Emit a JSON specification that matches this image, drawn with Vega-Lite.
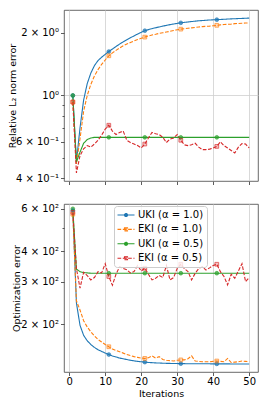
{
"$schema": "https://vega.github.io/schema/vega-lite/v6.json",
"padding": {"left": 6, "top": 9, "right": 9, "bottom": 2},
"spacing": 17,
"config": {
 "font": "DejaVu Sans",
 "view": {"stroke": "#444", "strokeWidth": 0.8},
 "axis": {"labelFont": "DejaVu Sans", "titleFont": "DejaVu Sans", "labelFontSize": 10, "titleFontSize": 9.5, "titleFontWeight": "normal", "labelColor": "#000", "titleColor": "#000", "domain": false, "tickColor": "#333", "tickWidth": 0.8, "gridColor": "#cfcfcf", "gridWidth": 0.8}
},
"resolve": {"legend": {"color": "independent"}},
"datasets": {"d": [
{"p":"top","s":"UKI (α = 1.0)","i":1,"v":1.0},{"p":"top","s":"UKI (α = 1.0)","i":2,"v":0.48},{"p":"top","s":"UKI (α = 1.0)","i":3,"v":0.70},{"p":"top","s":"UKI (α = 1.0)","i":4,"v":0.95},{"p":"top","s":"UKI (α = 1.0)","i":5,"v":1.14},{"p":"top","s":"UKI (α = 1.0)","i":6,"v":1.28},{"p":"top","s":"UKI (α = 1.0)","i":7,"v":1.39},{"p":"top","s":"UKI (α = 1.0)","i":8,"v":1.47},{"p":"top","s":"UKI (α = 1.0)","i":9,"v":1.525},{"p":"top","s":"UKI (α = 1.0)","i":10,"v":1.575},
{"p":"top","s":"UKI (α = 1.0)","i":11,"v":1.625},{"p":"top","s":"UKI (α = 1.0)","i":12,"v":1.67},{"p":"top","s":"UKI (α = 1.0)","i":13,"v":1.718},{"p":"top","s":"UKI (α = 1.0)","i":14,"v":1.764},{"p":"top","s":"UKI (α = 1.0)","i":15,"v":1.808},{"p":"top","s":"UKI (α = 1.0)","i":16,"v":1.85},{"p":"top","s":"UKI (α = 1.0)","i":17,"v":1.891},{"p":"top","s":"UKI (α = 1.0)","i":18,"v":1.931},{"p":"top","s":"UKI (α = 1.0)","i":19,"v":1.97},{"p":"top","s":"UKI (α = 1.0)","i":20,"v":2.008},
{"p":"top","s":"UKI (α = 1.0)","i":21,"v":2.045},{"p":"top","s":"UKI (α = 1.0)","i":22,"v":2.069},{"p":"top","s":"UKI (α = 1.0)","i":23,"v":2.091},{"p":"top","s":"UKI (α = 1.0)","i":24,"v":2.112},{"p":"top","s":"UKI (α = 1.0)","i":25,"v":2.132},{"p":"top","s":"UKI (α = 1.0)","i":26,"v":2.151},{"p":"top","s":"UKI (α = 1.0)","i":27,"v":2.169},{"p":"top","s":"UKI (α = 1.0)","i":28,"v":2.186},{"p":"top","s":"UKI (α = 1.0)","i":29,"v":2.202},{"p":"top","s":"UKI (α = 1.0)","i":30,"v":2.217},
{"p":"top","s":"UKI (α = 1.0)","i":31,"v":2.231},{"p":"top","s":"UKI (α = 1.0)","i":32,"v":2.242},{"p":"top","s":"UKI (α = 1.0)","i":33,"v":2.252},{"p":"top","s":"UKI (α = 1.0)","i":34,"v":2.262},{"p":"top","s":"UKI (α = 1.0)","i":35,"v":2.272},{"p":"top","s":"UKI (α = 1.0)","i":36,"v":2.281},{"p":"top","s":"UKI (α = 1.0)","i":37,"v":2.288},{"p":"top","s":"UKI (α = 1.0)","i":38,"v":2.295},{"p":"top","s":"UKI (α = 1.0)","i":39,"v":2.301},{"p":"top","s":"UKI (α = 1.0)","i":40,"v":2.306},
{"p":"top","s":"UKI (α = 1.0)","i":41,"v":2.31},{"p":"top","s":"UKI (α = 1.0)","i":42,"v":2.315},{"p":"top","s":"UKI (α = 1.0)","i":43,"v":2.32},{"p":"top","s":"UKI (α = 1.0)","i":44,"v":2.325},{"p":"top","s":"UKI (α = 1.0)","i":45,"v":2.33},{"p":"top","s":"UKI (α = 1.0)","i":46,"v":2.334},{"p":"top","s":"UKI (α = 1.0)","i":47,"v":2.338},{"p":"top","s":"UKI (α = 1.0)","i":48,"v":2.342},{"p":"top","s":"UKI (α = 1.0)","i":49,"v":2.346},{"p":"top","s":"UKI (α = 1.0)","i":50,"v":2.35},
{"p":"top","s":"EKI (α = 1.0)","i":1,"v":0.93},{"p":"top","s":"EKI (α = 1.0)","i":2,"v":0.47},{"p":"top","s":"EKI (α = 1.0)","i":3,"v":0.62},{"p":"top","s":"EKI (α = 1.0)","i":4,"v":0.84},{"p":"top","s":"EKI (α = 1.0)","i":5,"v":1.0},{"p":"top","s":"EKI (α = 1.0)","i":6,"v":1.13},{"p":"top","s":"EKI (α = 1.0)","i":7,"v":1.24},{"p":"top","s":"EKI (α = 1.0)","i":8,"v":1.33},{"p":"top","s":"EKI (α = 1.0)","i":9,"v":1.41},{"p":"top","s":"EKI (α = 1.0)","i":10,"v":1.48},
{"p":"top","s":"EKI (α = 1.0)","i":11,"v":1.55},{"p":"top","s":"EKI (α = 1.0)","i":12,"v":1.60},{"p":"top","s":"EKI (α = 1.0)","i":13,"v":1.645},{"p":"top","s":"EKI (α = 1.0)","i":14,"v":1.69},{"p":"top","s":"EKI (α = 1.0)","i":15,"v":1.73},{"p":"top","s":"EKI (α = 1.0)","i":16,"v":1.765},{"p":"top","s":"EKI (α = 1.0)","i":17,"v":1.795},{"p":"top","s":"EKI (α = 1.0)","i":18,"v":1.825},{"p":"top","s":"EKI (α = 1.0)","i":19,"v":1.855},{"p":"top","s":"EKI (α = 1.0)","i":20,"v":1.88},
{"p":"top","s":"EKI (α = 1.0)","i":21,"v":1.905},{"p":"top","s":"EKI (α = 1.0)","i":22,"v":1.93},{"p":"top","s":"EKI (α = 1.0)","i":23,"v":1.95},{"p":"top","s":"EKI (α = 1.0)","i":24,"v":1.965},{"p":"top","s":"EKI (α = 1.0)","i":25,"v":1.985},{"p":"top","s":"EKI (α = 1.0)","i":26,"v":2.0},{"p":"top","s":"EKI (α = 1.0)","i":27,"v":2.015},{"p":"top","s":"EKI (α = 1.0)","i":28,"v":2.03},{"p":"top","s":"EKI (α = 1.0)","i":29,"v":2.05},{"p":"top","s":"EKI (α = 1.0)","i":30,"v":2.065},
{"p":"top","s":"EKI (α = 1.0)","i":31,"v":2.08},{"p":"top","s":"EKI (α = 1.0)","i":32,"v":2.09},{"p":"top","s":"EKI (α = 1.0)","i":33,"v":2.10},{"p":"top","s":"EKI (α = 1.0)","i":34,"v":2.11},{"p":"top","s":"EKI (α = 1.0)","i":35,"v":2.12},{"p":"top","s":"EKI (α = 1.0)","i":36,"v":2.13},{"p":"top","s":"EKI (α = 1.0)","i":37,"v":2.14},{"p":"top","s":"EKI (α = 1.0)","i":38,"v":2.145},{"p":"top","s":"EKI (α = 1.0)","i":39,"v":2.15},{"p":"top","s":"EKI (α = 1.0)","i":40,"v":2.16},
{"p":"top","s":"EKI (α = 1.0)","i":41,"v":2.17},{"p":"top","s":"EKI (α = 1.0)","i":42,"v":2.18},{"p":"top","s":"EKI (α = 1.0)","i":43,"v":2.19},{"p":"top","s":"EKI (α = 1.0)","i":44,"v":2.195},{"p":"top","s":"EKI (α = 1.0)","i":45,"v":2.20},{"p":"top","s":"EKI (α = 1.0)","i":46,"v":2.21},{"p":"top","s":"EKI (α = 1.0)","i":47,"v":2.215},{"p":"top","s":"EKI (α = 1.0)","i":48,"v":2.22},{"p":"top","s":"EKI (α = 1.0)","i":49,"v":2.225},{"p":"top","s":"EKI (α = 1.0)","i":50,"v":2.23},
{"p":"top","s":"UKI (α = 0.5)","i":1,"v":1.0},{"p":"top","s":"UKI (α = 0.5)","i":2,"v":0.48},{"p":"top","s":"UKI (α = 0.5)","i":3,"v":0.535},{"p":"top","s":"UKI (α = 0.5)","i":4,"v":0.59},{"p":"top","s":"UKI (α = 0.5)","i":5,"v":0.615},{"p":"top","s":"UKI (α = 0.5)","i":6,"v":0.625},{"p":"top","s":"UKI (α = 0.5)","i":7,"v":0.63},{"p":"top","s":"UKI (α = 0.5)","i":8,"v":0.63},{"p":"top","s":"UKI (α = 0.5)","i":9,"v":0.63},{"p":"top","s":"UKI (α = 0.5)","i":10,"v":0.63},
{"p":"top","s":"UKI (α = 0.5)","i":11,"v":0.63},{"p":"top","s":"UKI (α = 0.5)","i":12,"v":0.63},{"p":"top","s":"UKI (α = 0.5)","i":13,"v":0.63},{"p":"top","s":"UKI (α = 0.5)","i":14,"v":0.63},{"p":"top","s":"UKI (α = 0.5)","i":15,"v":0.63},{"p":"top","s":"UKI (α = 0.5)","i":16,"v":0.63},{"p":"top","s":"UKI (α = 0.5)","i":17,"v":0.63},{"p":"top","s":"UKI (α = 0.5)","i":18,"v":0.63},{"p":"top","s":"UKI (α = 0.5)","i":19,"v":0.63},{"p":"top","s":"UKI (α = 0.5)","i":20,"v":0.63},
{"p":"top","s":"UKI (α = 0.5)","i":21,"v":0.63},{"p":"top","s":"UKI (α = 0.5)","i":22,"v":0.63},{"p":"top","s":"UKI (α = 0.5)","i":23,"v":0.63},{"p":"top","s":"UKI (α = 0.5)","i":24,"v":0.63},{"p":"top","s":"UKI (α = 0.5)","i":25,"v":0.63},{"p":"top","s":"UKI (α = 0.5)","i":26,"v":0.63},{"p":"top","s":"UKI (α = 0.5)","i":27,"v":0.63},{"p":"top","s":"UKI (α = 0.5)","i":28,"v":0.63},{"p":"top","s":"UKI (α = 0.5)","i":29,"v":0.63},{"p":"top","s":"UKI (α = 0.5)","i":30,"v":0.63},
{"p":"top","s":"UKI (α = 0.5)","i":31,"v":0.63},{"p":"top","s":"UKI (α = 0.5)","i":32,"v":0.63},{"p":"top","s":"UKI (α = 0.5)","i":33,"v":0.63},{"p":"top","s":"UKI (α = 0.5)","i":34,"v":0.63},{"p":"top","s":"UKI (α = 0.5)","i":35,"v":0.63},{"p":"top","s":"UKI (α = 0.5)","i":36,"v":0.63},{"p":"top","s":"UKI (α = 0.5)","i":37,"v":0.63},{"p":"top","s":"UKI (α = 0.5)","i":38,"v":0.63},{"p":"top","s":"UKI (α = 0.5)","i":39,"v":0.63},{"p":"top","s":"UKI (α = 0.5)","i":40,"v":0.63},
{"p":"top","s":"UKI (α = 0.5)","i":41,"v":0.63},{"p":"top","s":"UKI (α = 0.5)","i":42,"v":0.63},{"p":"top","s":"UKI (α = 0.5)","i":43,"v":0.63},{"p":"top","s":"UKI (α = 0.5)","i":44,"v":0.63},{"p":"top","s":"UKI (α = 0.5)","i":45,"v":0.63},{"p":"top","s":"UKI (α = 0.5)","i":46,"v":0.63},{"p":"top","s":"UKI (α = 0.5)","i":47,"v":0.63},{"p":"top","s":"UKI (α = 0.5)","i":48,"v":0.63},{"p":"top","s":"UKI (α = 0.5)","i":49,"v":0.63},{"p":"top","s":"UKI (α = 0.5)","i":50,"v":0.63},
{"p":"top","s":"EKI (α = 0.5)","i":1,"v":0.93},{"p":"top","s":"EKI (α = 0.5)","i":2,"v":0.425},{"p":"top","s":"EKI (α = 0.5)","i":3,"v":0.515},{"p":"top","s":"EKI (α = 0.5)","i":4,"v":0.555},{"p":"top","s":"EKI (α = 0.5)","i":5,"v":0.575},{"p":"top","s":"EKI (α = 0.5)","i":6,"v":0.565},{"p":"top","s":"EKI (α = 0.5)","i":7,"v":0.585},{"p":"top","s":"EKI (α = 0.5)","i":8,"v":0.61},{"p":"top","s":"EKI (α = 0.5)","i":9,"v":0.645},{"p":"top","s":"EKI (α = 0.5)","i":10,"v":0.69},
{"p":"top","s":"EKI (α = 0.5)","i":11,"v":0.72},{"p":"top","s":"EKI (α = 0.5)","i":12,"v":0.675},{"p":"top","s":"EKI (α = 0.5)","i":13,"v":0.65},{"p":"top","s":"EKI (α = 0.5)","i":14,"v":0.665},{"p":"top","s":"EKI (α = 0.5)","i":15,"v":0.675},{"p":"top","s":"EKI (α = 0.5)","i":16,"v":0.61},{"p":"top","s":"EKI (α = 0.5)","i":17,"v":0.595},{"p":"top","s":"EKI (α = 0.5)","i":18,"v":0.585},{"p":"top","s":"EKI (α = 0.5)","i":19,"v":0.575},{"p":"top","s":"EKI (α = 0.5)","i":20,"v":0.56},
{"p":"top","s":"EKI (α = 0.5)","i":21,"v":0.585},{"p":"top","s":"EKI (α = 0.5)","i":22,"v":0.625},{"p":"top","s":"EKI (α = 0.5)","i":23,"v":0.665},{"p":"top","s":"EKI (α = 0.5)","i":24,"v":0.655},{"p":"top","s":"EKI (α = 0.5)","i":25,"v":0.65},{"p":"top","s":"EKI (α = 0.5)","i":26,"v":0.63},{"p":"top","s":"EKI (α = 0.5)","i":27,"v":0.595},{"p":"top","s":"EKI (α = 0.5)","i":28,"v":0.618},{"p":"top","s":"EKI (α = 0.5)","i":29,"v":0.625},{"p":"top","s":"EKI (α = 0.5)","i":30,"v":0.65},
{"p":"top","s":"EKI (α = 0.5)","i":31,"v":0.61},{"p":"top","s":"EKI (α = 0.5)","i":32,"v":0.58},{"p":"top","s":"EKI (α = 0.5)","i":33,"v":0.575},{"p":"top","s":"EKI (α = 0.5)","i":34,"v":0.58},{"p":"top","s":"EKI (α = 0.5)","i":35,"v":0.59},{"p":"top","s":"EKI (α = 0.5)","i":36,"v":0.565},{"p":"top","s":"EKI (α = 0.5)","i":37,"v":0.55},{"p":"top","s":"EKI (α = 0.5)","i":38,"v":0.55},{"p":"top","s":"EKI (α = 0.5)","i":39,"v":0.553},{"p":"top","s":"EKI (α = 0.5)","i":40,"v":0.56},
{"p":"top","s":"EKI (α = 0.5)","i":41,"v":0.57},{"p":"top","s":"EKI (α = 0.5)","i":42,"v":0.60},{"p":"top","s":"EKI (α = 0.5)","i":43,"v":0.575},{"p":"top","s":"EKI (α = 0.5)","i":44,"v":0.56},{"p":"top","s":"EKI (α = 0.5)","i":45,"v":0.545},{"p":"top","s":"EKI (α = 0.5)","i":46,"v":0.53},{"p":"top","s":"EKI (α = 0.5)","i":47,"v":0.565},{"p":"top","s":"EKI (α = 0.5)","i":48,"v":0.588},{"p":"top","s":"EKI (α = 0.5)","i":49,"v":0.585},{"p":"top","s":"EKI (α = 0.5)","i":50,"v":0.56},
{"p":"bot","s":"UKI (α = 1.0)","i":1,"v":590},{"p":"bot","s":"UKI (α = 1.0)","i":2,"v":245},{"p":"bot","s":"UKI (α = 1.0)","i":3,"v":198},{"p":"bot","s":"UKI (α = 1.0)","i":4,"v":180},{"p":"bot","s":"UKI (α = 1.0)","i":5,"v":171},{"p":"bot","s":"UKI (α = 1.0)","i":6,"v":165},{"p":"bot","s":"UKI (α = 1.0)","i":7,"v":160.5},{"p":"bot","s":"UKI (α = 1.0)","i":8,"v":157},{"p":"bot","s":"UKI (α = 1.0)","i":9,"v":154.5},{"p":"bot","s":"UKI (α = 1.0)","i":10,"v":152},
{"p":"bot","s":"UKI (α = 1.0)","i":11,"v":150},{"p":"bot","s":"UKI (α = 1.0)","i":12,"v":148},{"p":"bot","s":"UKI (α = 1.0)","i":13,"v":146.5},{"p":"bot","s":"UKI (α = 1.0)","i":14,"v":145},{"p":"bot","s":"UKI (α = 1.0)","i":15,"v":144},{"p":"bot","s":"UKI (α = 1.0)","i":16,"v":143},{"p":"bot","s":"UKI (α = 1.0)","i":17,"v":142},{"p":"bot","s":"UKI (α = 1.0)","i":18,"v":141.2},{"p":"bot","s":"UKI (α = 1.0)","i":19,"v":140.5},{"p":"bot","s":"UKI (α = 1.0)","i":20,"v":140},
{"p":"bot","s":"UKI (α = 1.0)","i":21,"v":139.5},{"p":"bot","s":"UKI (α = 1.0)","i":22,"v":139.1},{"p":"bot","s":"UKI (α = 1.0)","i":23,"v":138.8},{"p":"bot","s":"UKI (α = 1.0)","i":24,"v":138.5},{"p":"bot","s":"UKI (α = 1.0)","i":25,"v":138.3},{"p":"bot","s":"UKI (α = 1.0)","i":26,"v":138.1},{"p":"bot","s":"UKI (α = 1.0)","i":27,"v":137.9},{"p":"bot","s":"UKI (α = 1.0)","i":28,"v":137.8},{"p":"bot","s":"UKI (α = 1.0)","i":29,"v":137.7},{"p":"bot","s":"UKI (α = 1.0)","i":30,"v":137.6},
{"p":"bot","s":"UKI (α = 1.0)","i":31,"v":137.5},{"p":"bot","s":"UKI (α = 1.0)","i":32,"v":137.5},{"p":"bot","s":"UKI (α = 1.0)","i":33,"v":137.4},{"p":"bot","s":"UKI (α = 1.0)","i":34,"v":137.4},{"p":"bot","s":"UKI (α = 1.0)","i":35,"v":137.4},{"p":"bot","s":"UKI (α = 1.0)","i":36,"v":137.3},{"p":"bot","s":"UKI (α = 1.0)","i":37,"v":137.3},{"p":"bot","s":"UKI (α = 1.0)","i":38,"v":137.3},{"p":"bot","s":"UKI (α = 1.0)","i":39,"v":137.3},{"p":"bot","s":"UKI (α = 1.0)","i":40,"v":137.2},
{"p":"bot","s":"UKI (α = 1.0)","i":41,"v":137.2},{"p":"bot","s":"UKI (α = 1.0)","i":42,"v":137.2},{"p":"bot","s":"UKI (α = 1.0)","i":43,"v":137.2},{"p":"bot","s":"UKI (α = 1.0)","i":44,"v":137.2},{"p":"bot","s":"UKI (α = 1.0)","i":45,"v":137.1},{"p":"bot","s":"UKI (α = 1.0)","i":46,"v":137.1},{"p":"bot","s":"UKI (α = 1.0)","i":47,"v":137.1},{"p":"bot","s":"UKI (α = 1.0)","i":48,"v":137.1},{"p":"bot","s":"UKI (α = 1.0)","i":49,"v":137.1},{"p":"bot","s":"UKI (α = 1.0)","i":50,"v":137.1},
{"p":"bot","s":"EKI (α = 1.0)","i":1,"v":570},{"p":"bot","s":"EKI (α = 1.0)","i":2,"v":250},{"p":"bot","s":"EKI (α = 1.0)","i":3,"v":229},{"p":"bot","s":"EKI (α = 1.0)","i":4,"v":207},{"p":"bot","s":"EKI (α = 1.0)","i":5,"v":195},{"p":"bot","s":"EKI (α = 1.0)","i":6,"v":186},{"p":"bot","s":"EKI (α = 1.0)","i":7,"v":179},{"p":"bot","s":"EKI (α = 1.0)","i":8,"v":173},{"p":"bot","s":"EKI (α = 1.0)","i":9,"v":169},{"p":"bot","s":"EKI (α = 1.0)","i":10,"v":165},
{"p":"bot","s":"EKI (α = 1.0)","i":11,"v":161.5},{"p":"bot","s":"EKI (α = 1.0)","i":12,"v":158},{"p":"bot","s":"EKI (α = 1.0)","i":13,"v":156},{"p":"bot","s":"EKI (α = 1.0)","i":14,"v":154},{"p":"bot","s":"EKI (α = 1.0)","i":15,"v":152},{"p":"bot","s":"EKI (α = 1.0)","i":16,"v":150},{"p":"bot","s":"EKI (α = 1.0)","i":17,"v":148.5},{"p":"bot","s":"EKI (α = 1.0)","i":18,"v":147},{"p":"bot","s":"EKI (α = 1.0)","i":19,"v":146},{"p":"bot","s":"EKI (α = 1.0)","i":20,"v":145},
{"p":"bot","s":"EKI (α = 1.0)","i":21,"v":144.5},{"p":"bot","s":"EKI (α = 1.0)","i":22,"v":145.5},{"p":"bot","s":"EKI (α = 1.0)","i":23,"v":148},{"p":"bot","s":"EKI (α = 1.0)","i":24,"v":145},{"p":"bot","s":"EKI (α = 1.0)","i":25,"v":147},{"p":"bot","s":"EKI (α = 1.0)","i":26,"v":143},{"p":"bot","s":"EKI (α = 1.0)","i":27,"v":142},{"p":"bot","s":"EKI (α = 1.0)","i":28,"v":141.5},{"p":"bot","s":"EKI (α = 1.0)","i":29,"v":141},{"p":"bot","s":"EKI (α = 1.0)","i":30,"v":142},
{"p":"bot","s":"EKI (α = 1.0)","i":31,"v":142.5},{"p":"bot","s":"EKI (α = 1.0)","i":32,"v":142.5},{"p":"bot","s":"EKI (α = 1.0)","i":33,"v":144},{"p":"bot","s":"EKI (α = 1.0)","i":34,"v":148},{"p":"bot","s":"EKI (α = 1.0)","i":35,"v":141},{"p":"bot","s":"EKI (α = 1.0)","i":36,"v":140.5},{"p":"bot","s":"EKI (α = 1.0)","i":37,"v":140},{"p":"bot","s":"EKI (α = 1.0)","i":38,"v":140},{"p":"bot","s":"EKI (α = 1.0)","i":39,"v":140},{"p":"bot","s":"EKI (α = 1.0)","i":40,"v":140.5},
{"p":"bot","s":"EKI (α = 1.0)","i":41,"v":141},{"p":"bot","s":"EKI (α = 1.0)","i":42,"v":140.5},{"p":"bot","s":"EKI (α = 1.0)","i":43,"v":140},{"p":"bot","s":"EKI (α = 1.0)","i":44,"v":144.5},{"p":"bot","s":"EKI (α = 1.0)","i":45,"v":139},{"p":"bot","s":"EKI (α = 1.0)","i":46,"v":139.5},{"p":"bot","s":"EKI (α = 1.0)","i":47,"v":140},{"p":"bot","s":"EKI (α = 1.0)","i":48,"v":141},{"p":"bot","s":"EKI (α = 1.0)","i":49,"v":140.5},{"p":"bot","s":"EKI (α = 1.0)","i":50,"v":140},
{"p":"bot","s":"UKI (α = 0.5)","i":1,"v":600},{"p":"bot","s":"UKI (α = 0.5)","i":2,"v":338},{"p":"bot","s":"UKI (α = 0.5)","i":3,"v":330},{"p":"bot","s":"UKI (α = 0.5)","i":4,"v":327},{"p":"bot","s":"UKI (α = 0.5)","i":5,"v":326},{"p":"bot","s":"UKI (α = 0.5)","i":6,"v":325},{"p":"bot","s":"UKI (α = 0.5)","i":7,"v":325},{"p":"bot","s":"UKI (α = 0.5)","i":8,"v":325},{"p":"bot","s":"UKI (α = 0.5)","i":9,"v":325},{"p":"bot","s":"UKI (α = 0.5)","i":10,"v":325},
{"p":"bot","s":"UKI (α = 0.5)","i":11,"v":325},{"p":"bot","s":"UKI (α = 0.5)","i":12,"v":325},{"p":"bot","s":"UKI (α = 0.5)","i":13,"v":325},{"p":"bot","s":"UKI (α = 0.5)","i":14,"v":325},{"p":"bot","s":"UKI (α = 0.5)","i":15,"v":325},{"p":"bot","s":"UKI (α = 0.5)","i":16,"v":325},{"p":"bot","s":"UKI (α = 0.5)","i":17,"v":325},{"p":"bot","s":"UKI (α = 0.5)","i":18,"v":325},{"p":"bot","s":"UKI (α = 0.5)","i":19,"v":325},{"p":"bot","s":"UKI (α = 0.5)","i":20,"v":325},
{"p":"bot","s":"UKI (α = 0.5)","i":21,"v":325},{"p":"bot","s":"UKI (α = 0.5)","i":22,"v":325},{"p":"bot","s":"UKI (α = 0.5)","i":23,"v":325},{"p":"bot","s":"UKI (α = 0.5)","i":24,"v":325},{"p":"bot","s":"UKI (α = 0.5)","i":25,"v":325},{"p":"bot","s":"UKI (α = 0.5)","i":26,"v":325},{"p":"bot","s":"UKI (α = 0.5)","i":27,"v":325},{"p":"bot","s":"UKI (α = 0.5)","i":28,"v":325},{"p":"bot","s":"UKI (α = 0.5)","i":29,"v":325},{"p":"bot","s":"UKI (α = 0.5)","i":30,"v":325},
{"p":"bot","s":"UKI (α = 0.5)","i":31,"v":325},{"p":"bot","s":"UKI (α = 0.5)","i":32,"v":325},{"p":"bot","s":"UKI (α = 0.5)","i":33,"v":325},{"p":"bot","s":"UKI (α = 0.5)","i":34,"v":325},{"p":"bot","s":"UKI (α = 0.5)","i":35,"v":325},{"p":"bot","s":"UKI (α = 0.5)","i":36,"v":325},{"p":"bot","s":"UKI (α = 0.5)","i":37,"v":325},{"p":"bot","s":"UKI (α = 0.5)","i":38,"v":325},{"p":"bot","s":"UKI (α = 0.5)","i":39,"v":325},{"p":"bot","s":"UKI (α = 0.5)","i":40,"v":325},
{"p":"bot","s":"UKI (α = 0.5)","i":41,"v":325},{"p":"bot","s":"UKI (α = 0.5)","i":42,"v":325},{"p":"bot","s":"UKI (α = 0.5)","i":43,"v":325},{"p":"bot","s":"UKI (α = 0.5)","i":44,"v":325},{"p":"bot","s":"UKI (α = 0.5)","i":45,"v":325},{"p":"bot","s":"UKI (α = 0.5)","i":46,"v":325},{"p":"bot","s":"UKI (α = 0.5)","i":47,"v":325},{"p":"bot","s":"UKI (α = 0.5)","i":48,"v":325},{"p":"bot","s":"UKI (α = 0.5)","i":49,"v":325},{"p":"bot","s":"UKI (α = 0.5)","i":50,"v":325},
{"p":"bot","s":"EKI (α = 0.5)","i":1,"v":580},{"p":"bot","s":"EKI (α = 0.5)","i":2,"v":340},{"p":"bot","s":"EKI (α = 0.5)","i":3,"v":282},{"p":"bot","s":"EKI (α = 0.5)","i":4,"v":328},{"p":"bot","s":"EKI (α = 0.5)","i":5,"v":318},{"p":"bot","s":"EKI (α = 0.5)","i":6,"v":305},{"p":"bot","s":"EKI (α = 0.5)","i":7,"v":312},{"p":"bot","s":"EKI (α = 0.5)","i":8,"v":330},{"p":"bot","s":"EKI (α = 0.5)","i":9,"v":326},{"p":"bot","s":"EKI (α = 0.5)","i":10,"v":356},
{"p":"bot","s":"EKI (α = 0.5)","i":11,"v":315},{"p":"bot","s":"EKI (α = 0.5)","i":12,"v":290},{"p":"bot","s":"EKI (α = 0.5)","i":13,"v":322},{"p":"bot","s":"EKI (α = 0.5)","i":14,"v":346},{"p":"bot","s":"EKI (α = 0.5)","i":15,"v":340},{"p":"bot","s":"EKI (α = 0.5)","i":16,"v":336},{"p":"bot","s":"EKI (α = 0.5)","i":17,"v":326},{"p":"bot","s":"EKI (α = 0.5)","i":18,"v":330},{"p":"bot","s":"EKI (α = 0.5)","i":19,"v":350},{"p":"bot","s":"EKI (α = 0.5)","i":20,"v":332},
{"p":"bot","s":"EKI (α = 0.5)","i":21,"v":341},{"p":"bot","s":"EKI (α = 0.5)","i":22,"v":322},{"p":"bot","s":"EKI (α = 0.5)","i":23,"v":305},{"p":"bot","s":"EKI (α = 0.5)","i":24,"v":310},{"p":"bot","s":"EKI (α = 0.5)","i":25,"v":318},{"p":"bot","s":"EKI (α = 0.5)","i":26,"v":312},{"p":"bot","s":"EKI (α = 0.5)","i":27,"v":350},{"p":"bot","s":"EKI (α = 0.5)","i":28,"v":305},{"p":"bot","s":"EKI (α = 0.5)","i":29,"v":312},{"p":"bot","s":"EKI (α = 0.5)","i":30,"v":340},
{"p":"bot","s":"EKI (α = 0.5)","i":31,"v":354},{"p":"bot","s":"EKI (α = 0.5)","i":32,"v":340},{"p":"bot","s":"EKI (α = 0.5)","i":33,"v":330},{"p":"bot","s":"EKI (α = 0.5)","i":34,"v":305},{"p":"bot","s":"EKI (α = 0.5)","i":35,"v":325},{"p":"bot","s":"EKI (α = 0.5)","i":36,"v":340},{"p":"bot","s":"EKI (α = 0.5)","i":37,"v":346},{"p":"bot","s":"EKI (α = 0.5)","i":38,"v":335},{"p":"bot","s":"EKI (α = 0.5)","i":39,"v":342},{"p":"bot","s":"EKI (α = 0.5)","i":40,"v":350},
{"p":"bot","s":"EKI (α = 0.5)","i":41,"v":354},{"p":"bot","s":"EKI (α = 0.5)","i":42,"v":330},{"p":"bot","s":"EKI (α = 0.5)","i":43,"v":315},{"p":"bot","s":"EKI (α = 0.5)","i":44,"v":291},{"p":"bot","s":"EKI (α = 0.5)","i":45,"v":322},{"p":"bot","s":"EKI (α = 0.5)","i":46,"v":310},{"p":"bot","s":"EKI (α = 0.5)","i":47,"v":332},{"p":"bot","s":"EKI (α = 0.5)","i":48,"v":356},{"p":"bot","s":"EKI (α = 0.5)","i":49,"v":300},{"p":"bot","s":"EKI (α = 0.5)","i":50,"v":312}
]},
"vconcat": [
 {
  "width": 194, "height": 171,
  "data": {"name": "d"},
  "transform": [{"filter": "datum.p == 'top'"}],
  "encoding": {
   "x": {"field": "i", "type": "quantitative", "scale": {"domain": [-1.45, 52.45], "nice": false, "zero": false}, "axis": {"values": [0,10,20,30,40,50], "labels": false, "title": null, "tickSize": 3.5, "grid": true}},
   "y": {"field": "v", "type": "quantitative", "scale": {"type": "log", "domain": [0.389, 2.57], "nice": false}, "axis": {"values": [0.4,0.5,0.6,0.7,0.8,0.9,1,2], "labelExpr": "datum.value == 1 ? '10⁰' : datum.value == 2 ? '2 × 10⁰' : datum.value == 0.6 ? '6 × 10⁻¹' : datum.value == 0.4 ? '4 × 10⁻¹' : ''", "title": "Relative L₂ norm error", "grid": true, "gridOpacity": {"condition": {"test": "datum.value == 1", "value": 1}, "value": 0}, "tickSize": {"condition": {"test": "datum.value == 1 || datum.value == 2 || datum.value == 0.6 || datum.value == 0.4", "value": 3.5}, "value": 2}, "labelPadding": 2, "titleX": -52, "titleBaseline": "middle"}},
   "color": {"field": "s", "type": "nominal", "scale": {"domain": ["UKI (α = 1.0)", "EKI (α = 1.0)", "UKI (α = 0.5)", "EKI (α = 0.5)"], "range": ["#1f77b4", "#ff7f0e", "#2ca02c", "#d62728"]}, "legend": null}
  },
  "layer": [
   {"mark": {"type": "line", "strokeWidth": 1.1},
    "encoding": {"strokeDash": {"field": "s", "type": "nominal", "scale": {"domain": ["UKI (α = 1.0)", "EKI (α = 1.0)", "UKI (α = 0.5)", "EKI (α = 0.5)"], "range": [[1,0],[3.7,1.6],[1,0],[3.7,1.6]]}, "legend": null}}},
   {"transform": [{"filter": "datum.i % 10 == 1"}],
    "mark": {"type": "point", "filled": true, "size": 14},
    "encoding": {"shape": {"field": "s", "type": "nominal", "scale": {"domain": ["UKI (α = 1.0)", "EKI (α = 1.0)", "UKI (α = 0.5)", "EKI (α = 0.5)"], "range": ["circle", "square", "circle", "square"]}, "legend": null},
     "fillOpacity": {"condition": {"test": "indexof(datum.s, 'UKI') == 0", "value": 1}, "value": 0.4}}},
   {"transform": [{"filter": "datum.i % 10 == 1"}],
    "mark": {"type": "point", "filled": false, "size": 14, "strokeWidth": 0.9},
    "encoding": {"shape": {"field": "s", "type": "nominal", "legend": null}}}
  ]
 },
 {
  "width": 194, "height": 168,
  "data": {"name": "d"},
  "transform": [{"filter": "datum.p == 'bot'"}],
  "encoding": {
   "x": {"field": "i", "type": "quantitative", "scale": {"domain": [-1.45, 52.45], "nice": false, "zero": false}, "axis": {"values": [0,10,20,30,40,50], "title": "Iterations", "tickSize": 3.5, "labelPadding": 1, "titlePadding": 2, "grid": true}},
   "y": {"field": "v", "type": "quantitative", "scale": {"type": "log", "domain": [127, 628], "nice": false}, "axis": {"values": [200,300,400,500,600], "labelExpr": "datum.value == 200 ? '2 × 10²' : datum.value == 300 ? '3 × 10²' : datum.value == 400 ? '4 × 10²' : datum.value == 600 ? '6 × 10²' : ''", "title": "Optimization error", "grid": false, "tickSize": {"condition": {"test": "datum.value == 500", "value": 2}, "value": 3.5}, "labelPadding": 2, "titleX": -48, "titleBaseline": "middle"}},
   "color": {"field": "s", "type": "nominal", "scale": {"domain": ["UKI (α = 1.0)", "EKI (α = 1.0)", "UKI (α = 0.5)", "EKI (α = 0.5)"], "range": ["#1f77b4", "#ff7f0e", "#2ca02c", "#d62728"]},
    "legend": {"orient": "none", "legendX": 50, "legendY": 2, "title": null, "symbolSize": 100, "rowPadding": 3.4, "padding": 3, "labelOffset": 6, "symbolOffset": 3, "fillColor": "rgba(255,255,255,0.8)", "strokeColor": "#cccccc", "cornerRadius": 3, "labelFontSize": 10, "labelFont": "DejaVu Sans", "labelColor": "#000", "symbolStrokeWidth": 1.1,
     "encode": {"symbols": {"update": {
      "shape": {"signal": "indexof(datum.value, 'UKI') == 0 ? 'M-1.7,0H1.7M-0.3,0A0.3,0.3 0 1,0 0.3,0A0.3,0.3 0 1,0 -0.3,0Z' : 'M-1.7,0H1.7M-0.3,-0.3H0.3V0.3H-0.3Z'"},
      "fill": {"scale": "color", "field": "value"},
      "fillOpacity": {"signal": "indexof(datum.value, 'UKI') == 0 ? 1 : 0.45"},
      "stroke": {"scale": "color", "field": "value"},
      "strokeDash": {"signal": "indexof(datum.value, 'EKI') == 0 ? [3.7, 1.6] : [1, 0]"}
     }}}}}
  },
  "layer": [
   {"mark": {"type": "line", "strokeWidth": 1.1},
    "encoding": {"strokeDash": {"field": "s", "type": "nominal", "legend": null}}},
   {"transform": [{"filter": "datum.i % 10 == 1"}],
    "mark": {"type": "point", "filled": true, "size": 14},
    "encoding": {"shape": {"field": "s", "type": "nominal", "legend": null},
     "fillOpacity": {"condition": {"test": "indexof(datum.s, 'UKI') == 0", "value": 1}, "value": 0.4}}},
   {"transform": [{"filter": "datum.i % 10 == 1"}],
    "mark": {"type": "point", "filled": false, "size": 14, "strokeWidth": 0.9},
    "encoding": {"shape": {"field": "s", "type": "nominal", "legend": null}}}
  ]
 }
]
}
